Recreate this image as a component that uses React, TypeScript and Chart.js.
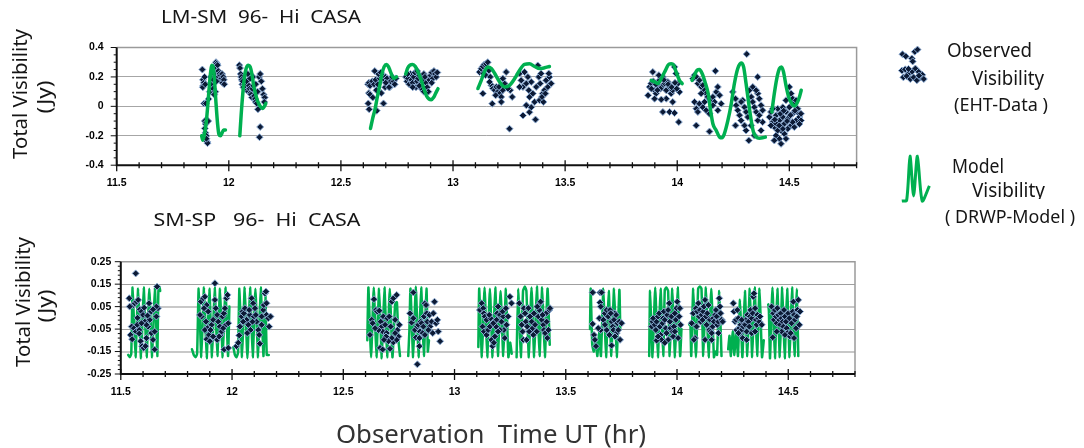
import React, { useEffect, useRef } from "react";
import { Chart, registerables } from "chart.js";

Chart.register(...registerables);

type Pt = [number, number];

// ---------------- axes / tick labels ----------------
const X_MIN = 11.5;
const X_MAX = 14.8;
const X_MINOR = 0.1;
const xTickValues = [11.5, 12, 12.5, 13, 13.5, 14, 14.5];
const xTickLabels = ["11.5", "12", "12.5", "13", "13.5", "14", "14.5"];

const topYTickValues = [-0.4, -0.2, 0, 0.2, 0.4];
const topYTickLabels = ["-0.4", "-0.2", "0", "0.2", "0.4"];
const bottomYTickValues = [-0.25, -0.15, -0.05, 0.05, 0.15, 0.25];
const bottomYTickLabels = ["-0.25", "-0.15", "-0.05", "0.05", "0.15", "0.25"];
const topGridColors = ["#a6a6a6", "#a6a6a6", "#a6a6a6", "#a6a6a6", "#a6a6a6"];
const topGridWidths = [1, 1, 1, 1, 1];
const bottomGridColors = ["#a0a0a0", "#c8c8c8", "#a0a0a0", "#c8c8c8", "#a0a0a0", "#a0a0a0"];
const bottomGridWidths = [1, 2, 1, 2, 1, 1];

// ---------------- LM-SM observed (EHT data) ----------------
const obsTop: Pt[] = [
  [11.882,0.25],[11.885,0.18],[11.886,0.14],[11.889,0.16],[11.884,0.13],[11.892,0.2],[11.895,0.15],[11.89,0.02],[11.898,0.02],
  [11.893,-0.1],[11.897,-0.12],[11.9,-0.11],[11.893,-0.15],[11.896,-0.18],[11.9,-0.2],[11.903,-0.24],[11.905,-0.25],[11.9,-0.22],
  [11.908,-0.1],[11.91,0.05],[11.915,0.1],[11.92,0.2],[11.925,0.15],[11.93,0.12],[11.935,0.22],[11.94,0.27],[11.943,0.3],
  [11.947,0.29],[11.95,0.28],[11.953,0.24],[11.955,0.2],[11.958,0.22],[11.96,0.18],[11.963,0.21],[11.965,0.17],[11.968,0.19],
  [11.97,0.22],[11.972,0.16],[11.94,0.1],[11.935,0.08],[11.93,0.18],[11.945,0.17],[11.975,0.2],[11.978,0.18],[11.98,0.15],
  [12.047,0.28],[12.05,0.26],[12.053,0.22],[12.055,0.2],[12.058,0.18],[12.06,0.15],[12.062,0.17],[12.065,0.13],[12.07,0.15],
  [12.072,0.12],[12.075,0.14],[12.08,0.17],[12.083,0.11],[12.087,0.1],[12.09,0.14],[12.093,0.12],[12.097,0.09],[12.1,0.08],
  [12.103,0.06],[12.105,0.12],[12.108,0.2],[12.11,0.14],[12.113,0.07],[12.117,0.05],[12.12,0.03],[12.125,0.02],[12.13,-0.02],
  [12.128,0.1],[12.135,0.2],[12.14,0.22],[12.145,0.17],[12.15,0.12],[12.155,0.08],[12.16,0.06],[12.158,0.03],[12.14,-0.14],
  [12.137,-0.21],[12.12,0.15],[12.095,0.19],[12.085,0.22],
  [12.651,0.24],[12.621,0.15],[12.625,0.16],[12.63,0.14],[12.64,0.17],[12.648,0.15],[12.655,0.18],[12.665,0.15],[12.673,0.19],
  [12.68,0.2],[12.687,0.21],[12.695,0.18],[12.7,0.2],[12.706,0.19],[12.712,0.16],[12.718,0.13],[12.722,0.17],[12.668,0.22],
  [12.678,0.23],[12.625,0.09],[12.63,0.08],[12.622,0.02],[12.626,-0.02],[12.66,-0.03],[12.69,0.02],[12.68,0.09],[12.658,0.11],
  [12.642,0.06],[12.697,0.13],[12.715,0.13],[12.735,0.17],[12.745,0.19],[12.74,0.15],[12.728,0.2],[12.7,0.16],
  [12.79,0.2],[12.795,0.17],[12.8,0.19],[12.805,0.15],[12.81,0.22],[12.815,0.18],[12.82,0.16],[12.825,0.2],[12.83,0.23],
  [12.835,0.13],[12.84,0.17],[12.845,0.19],[12.85,0.21],[12.855,0.15],[12.86,0.12],[12.865,0.18],[12.87,0.22],[12.875,0.2],
  [12.88,0.16],[12.885,0.13],[12.89,0.1],[12.895,0.18],[12.9,0.21],[12.905,0.23],[12.91,0.19],[12.915,0.24],[12.92,0.22],
  [12.925,0.2],[12.93,0.23],[12.87,0.1],[12.85,0.14],[12.82,0.13],[12.797,0.22],[12.84,0.24],[12.905,0.16],
  [13.118,0.233],[13.126,0.255],[13.133,0.271],[13.14,0.285],[13.148,0.289],[13.155,0.3],[13.136,0.223],[13.145,0.212],
  [13.16,0.244],[13.166,0.2],[13.171,0.143],[13.178,0.121],[13.186,0.11],[13.193,0.132],[13.2,0.098],[13.208,0.087],
  [13.215,0.064],[13.222,0.11],[13.23,0.155],[13.237,0.233],[13.133,0.087],[13.175,0.018],[13.215,0.03],[13.19,0.075],
  [13.205,0.132],[13.222,0.189],[13.255,0.11],[13.264,0.064],[13.245,0.121],[13.163,0.166],[13.252,-0.152],
  [13.297,0.223],[13.304,0.177],[13.312,0.132],[13.319,0.233],[13.327,0.155],[13.334,0.2],[13.338,0.11],[13.341,0.064],
  [13.349,0.166],[13.356,0.087],[13.364,0.03],[13.371,0.132],[13.378,0.278],[13.383,0.2],[13.389,0.155],[13.393,0.223],
  [13.4,0.087],[13.408,0.11],[13.415,0.177],[13.423,0.132],[13.43,0.2],[13.438,0.155],[13.312,-0.062],[13.341,-0.04],
  [13.368,-0.09],[13.349,-0.006],[13.327,0.007],[13.386,0.041],[13.403,0.03],[13.427,0.223],[13.297,0.132],[13.397,0.064],
  [13.412,0.087],
  [13.891,0.234],[13.877,0.132],[13.884,0.155],[13.899,0.109],[13.906,0.087],[13.914,0.143],[13.921,0.177],[13.929,0.132],
  [13.936,0.2],[13.944,0.155],[13.951,0.109],[13.958,0.166],[13.966,0.132],[13.973,0.087],[13.98,0.109],[13.988,0.268],
  [13.995,0.223],[14.003,0.155],[14.01,0.098],[13.951,0.052],[13.929,0.046],[13.936,-0.038],[13.966,-0.038],[13.988,-0.045],
  [14.007,-0.107],[13.98,0.03],[13.899,0.052],[13.87,0.075],[13.918,0.212],[13.893,0.17],[13.905,0.15],[13.925,0.12],
  [13.94,0.18],[13.96,0.15],[13.975,0.13],[13.99,0.16],[13.998,0.12],[13.885,0.12],[13.912,0.11],
  [14.07,0.189],[14.077,0.212],[14.085,0.2],[14.092,0.155],[14.099,0.177],[14.107,0.132],[14.114,0.143],[14.122,0.109],
  [14.129,0.087],[14.136,0.064],[14.144,0.052],[14.151,0.041],[14.159,0.064],[14.166,0.03],[14.174,0.098],[14.181,0.132],
  [14.189,0.075],[14.196,0.018],[14.17,0.241],[14.077,0.03],[14.085,-0.016],[14.092,-0.038],[14.099,0.018],[14.114,-0.006],
  [14.129,-0.027],[14.144,-0.05],[14.085,-0.13],[14.144,-0.171],[14.181,-0.027],[14.159,0.007],[14.107,0.087],[14.122,0.03],
  [14.31,0.355],[14.359,0.2],[14.248,0.098],[14.26,0.052],[14.263,0.007],[14.27,-0.027],[14.278,-0.061],[14.285,-0.096],
  [14.292,0.041],[14.3,-0.006],[14.307,-0.038],[14.315,-0.073],[14.322,0.109],[14.33,0.064],[14.337,0.03],[14.344,-0.006],
  [14.352,-0.038],[14.359,0.087],[14.366,0.052],[14.374,0.007],[14.381,-0.027],[14.337,0.132],[14.352,0.109],[14.307,-0.164],
  [14.319,-0.232],[14.344,-0.198],[14.374,-0.164],[14.381,-0.107],[14.26,-0.13],[14.3,-0.13],[14.33,-0.13],[14.359,-0.096],
  [14.285,0.03],[14.366,-0.061],
  [14.411,-0.073],[14.418,-0.038],[14.426,-0.107],[14.433,-0.141],[14.441,-0.061],[14.448,-0.016],[14.456,-0.096],
  [14.463,-0.164],[14.471,-0.073],[14.478,-0.118],[14.485,-0.038],[14.493,-0.084],[14.5,-0.006],[14.508,-0.13],[14.515,-0.05],
  [14.522,0.018],[14.53,-0.096],[14.537,-0.038],[14.545,-0.073],[14.552,-0.05],[14.508,0.087],[14.515,0.052],[14.5,0.132],
  [14.441,-0.198],[14.456,-0.221],[14.463,-0.255],[14.478,-0.187],[14.485,-0.221],[14.433,-0.232],[14.448,-0.164],
  [14.418,-0.13],[14.471,-0.006],[14.493,-0.153],[14.522,-0.141],[14.537,-0.016],[14.552,-0.096],[14.426,-0.016],[14.53,0.041],
  [14.515,-0.107],[14.485,0.041],[14.441,-0.118],[14.471,-0.153],[14.46,-0.05],[14.49,-0.1],[14.505,-0.06],[14.525,-0.03],
  [14.545,-0.12],[14.475,-0.03],[14.455,-0.13],[14.435,-0.09],
];

// ---------------- LM-SM model (DRWP) segments ----------------
const modelTop: Pt[][] = [
  [[11.879,-0.2],[11.884,-0.23],[11.89,-0.2],[11.9,-0.1],[11.91,0.08],[11.918,0.22],[11.925,0.28],[11.93,0.27],[11.936,0.18],
   [11.943,0.02],[11.95,-0.12],[11.956,-0.19],[11.963,-0.2],[11.97,-0.18],[11.977,-0.16],[11.985,-0.16]],
  [[12.049,-0.2],[12.055,-0.06],[12.062,0.08],[12.07,0.2],[12.078,0.26],[12.087,0.28],[12.095,0.27],[12.103,0.22],[12.11,0.15],
   [12.12,0.08],[12.13,0.03],[12.14,0.0],[12.15,-0.015],[12.157,-0.005],[12.165,0.02]],
  [[12.632,-0.15],[12.642,-0.08],[12.652,-0.02],[12.662,0.06],[12.673,0.14],[12.683,0.22],[12.693,0.27],[12.703,0.285],
   [12.712,0.27],[12.72,0.24],[12.728,0.21],[12.735,0.19],[12.742,0.195],[12.748,0.2]],
  [[12.789,0.22],[12.798,0.26],[12.808,0.28],[12.82,0.285],[12.832,0.27],[12.845,0.23],[12.858,0.18],[12.87,0.12],[12.882,0.07],
   [12.893,0.05],[12.903,0.045],[12.913,0.06],[12.923,0.09],[12.933,0.12]],
  [[13.111,0.121],[13.126,0.177],[13.14,0.234],[13.155,0.268],[13.171,0.257],[13.186,0.223],[13.208,0.166],[13.23,0.132],
   [13.252,0.143],[13.275,0.189],[13.297,0.246],[13.319,0.285],[13.341,0.289],[13.364,0.271],[13.386,0.257],[13.408,0.262],
   [13.43,0.271]],
  [[13.884,0.177],[13.899,0.166],[13.914,0.155],[13.929,0.189],[13.944,0.234],[13.963,0.286],[13.973,0.289],[13.984,0.28],
   [13.995,0.234],[14.01,0.177],[14.022,0.155]],
  [[14.066,0.177],[14.077,0.212],[14.089,0.246],[14.099,0.25],[14.111,0.223],[14.126,0.155],[14.138,0.087],[14.148,-0.02],
   [14.159,-0.118],[14.174,-0.164],[14.189,-0.209],[14.2,-0.214],[14.21,-0.187],[14.226,-0.096],[14.241,0.018],[14.255,0.155],
   [14.27,0.257],[14.285,0.294],[14.296,0.268],[14.307,0.155],[14.319,0.018],[14.33,-0.096],[14.34,-0.175],[14.352,-0.209],
   [14.366,-0.216],[14.381,-0.214],[14.393,-0.209]],
  [[14.422,-0.038],[14.433,0.087],[14.444,0.189],[14.456,0.257],[14.465,0.268],[14.474,0.234],[14.485,0.143],[14.497,0.064],
   [14.511,0.018],[14.522,0.002],[14.533,0.018],[14.545,0.064],[14.553,0.109]],
];

// ---------------- SM-SP observed (EHT data) ----------------
const obsBottom: Pt[] = [
  [11.538,0.087],[11.567,0.198],[11.549,-0.039],[11.544,-0.076],[11.551,-0.095],[11.556,0.057],[11.563,0.065],[11.571,0.072],
  [11.578,0.08],[11.586,0.038],[11.593,0.028],[11.6,0.013],[11.559,-0.046],[11.568,-0.061],[11.574,-0.031],[11.583,-0.054],
  [11.589,-0.104],[11.596,-0.126],[11.603,-0.134],[11.611,-0.126],[11.615,-0.09],[11.622,-0.039],[11.63,-0.009],[11.637,-0.068],
  [11.645,-0.098],[11.652,-0.141],[11.66,0.006],[11.667,0.043],[11.66,0.05],[11.663,0.139],[11.652,-0.061],[11.608,-0.017],
  [11.615,-0.031],[11.593,-0.024],[11.637,0.028],[11.645,0.038],[11.627,0.065],[11.54,0.05],[11.575,0.0],[11.62,0.01],
  [11.583,-0.07],[11.605,0.045],
  [11.86,0.072],[11.871,0.087],[11.878,0.094],[11.863,0.006],[11.856,0.013],[11.886,0.057],[11.893,0.028],[11.874,0.043],
  [11.883,-0.017],[11.889,-0.046],[11.878,-0.054],[11.886,-0.095],[11.9,-0.104],[11.896,-0.076],[11.908,-0.031],[11.915,-0.009],
  [11.923,0.08],[11.927,0.043],[11.933,0.013],[11.923,0.154],[11.938,-0.017],[11.945,-0.039],[11.948,-0.076],[11.957,0.006],
  [11.963,0.02],[11.968,0.043],[11.972,-0.031],[11.975,0.087],[11.98,0.102],[11.983,-0.024],[11.965,-0.141],[11.983,-0.134],
  [11.933,-0.098],[11.942,-0.083],[11.915,-0.083],[11.903,-0.054],[11.953,-0.061],[11.96,-0.046],
  [12.02,-0.126],[12.028,-0.111],[12.032,-0.078],[12.035,-0.039],[12.043,0.006],[12.047,0.028],[12.053,0.02],[12.058,0.043],
  [12.065,-0.009],[12.073,-0.031],[12.08,0.013],[12.088,0.087],[12.095,0.065],[12.103,0.043],[12.098,0.006],[12.11,-0.017],
  [12.118,-0.054],[12.122,-0.076],[12.125,-0.115],[12.133,-0.031],[12.14,0.035],[12.143,0.057],[12.148,0.109],[12.152,0.117],
  [12.155,0.013],[12.163,-0.002],[12.167,-0.039],[12.173,0.006],[12.083,-0.054],[12.068,-0.068],[12.05,-0.017],[12.107,0.013],
  [12.133,0.006],[12.155,0.065],[12.092,-0.017],[12.077,0.035],
  [12.62,-0.076],[12.628,-0.009],[12.632,-0.024],[12.638,0.083],[12.647,0.035],[12.653,0.028],[12.662,0.032],[12.668,-0.017],
  [12.673,-0.039],[12.677,-0.061],[12.68,0.006],[12.688,-0.031],[12.695,-0.068],[12.698,-0.002],[12.707,0.006],[12.713,-0.039],
  [12.718,0.072],[12.725,0.087],[12.733,-0.009],[12.74,0.102],[12.743,-0.054],[12.748,-0.083],[12.752,-0.031],[12.665,-0.134],
  [12.677,-0.141],[12.692,-0.083],[12.71,-0.138],[12.725,-0.109],[12.74,-0.098],[12.658,-0.054],[12.643,-0.046],[12.733,-0.068],
  [12.718,-0.09],[12.703,-0.104],[12.683,-0.098],
  [12.8,0.02],[12.807,-0.021],[12.815,0.113],[12.822,-0.054],[12.827,-0.087],[12.833,-0.039],[12.837,-0.031],[12.842,-0.126],
  [12.845,-0.061],[12.848,-0.017],[12.852,-0.024],[12.86,-0.039],[12.863,0.006],[12.867,0.065],[12.872,0.057],[12.875,0.02],
  [12.878,-0.017],[12.887,0.013],[12.89,-0.039],[12.897,-0.017],[12.905,0.02],[12.91,0.072],[12.917,-0.024],[12.923,-0.009],
  [12.927,-0.061],[12.935,-0.104],[12.833,-0.207],[12.857,-0.068],[12.882,-0.054],[12.902,-0.068],[12.815,-0.002],
  [12.842,-0.09],[12.867,-0.076],
  [13.114,0.035],[13.122,0.065],[13.129,0.043],[13.132,0.02],[13.136,0.006],[13.144,-0.009],[13.126,-0.039],[13.133,-0.061],
  [13.144,-0.076],[13.151,-0.054],[13.159,-0.039],[13.162,-0.002],[13.166,-0.098],[13.171,-0.126],[13.177,-0.111],
  [13.181,-0.083],[13.186,-0.039],[13.189,-0.009],[13.192,0.02],[13.196,0.05],[13.204,0.013],[13.211,-0.017],[13.219,0.006],
  [13.222,-0.054],[13.226,-0.09],[13.234,-0.031],[13.241,0.006],[13.249,0.094],[13.256,0.065],[13.204,-0.054],[13.216,0.028],
  [13.156,0.013],[13.174,-0.024],[13.196,-0.061],[13.231,0.043],
  [13.291,0.065],[13.297,0.006],[13.302,-0.031],[13.306,-0.061],[13.309,-0.098],[13.312,0.043],[13.317,0.02],[13.321,-0.017],
  [13.327,-0.039],[13.332,0.043],[13.336,-0.061],[13.339,0.006],[13.347,-0.017],[13.351,-0.046],[13.357,0.02],[13.362,-0.031],
  [13.369,-0.061],[13.377,0.006],[13.381,0.035],[13.384,0.065],[13.387,0.072],[13.392,-0.009],[13.399,-0.031],[13.402,-0.054],
  [13.407,-0.068],[13.411,0.02],[13.414,-0.017],[13.417,-0.09],[13.422,-0.054],[13.426,0.035],[13.429,0.043],[13.324,-0.098],
  [13.354,-0.076],[13.372,0.05],[13.396,0.013],
  [13.621,0.113],[13.621,-0.027],[13.627,-0.076],[13.631,-0.098],[13.636,-0.126],[13.654,0.113],[13.654,0.068],[13.657,0.05],
  [13.661,0.113],[13.651,-0.002],[13.657,-0.054],[13.646,-0.046],[13.669,-0.009],[13.676,0.02],[13.684,0.035],[13.691,0.006],
  [13.699,0.035],[13.706,-0.017],[13.711,-0.039],[13.714,-0.054],[13.717,-0.009],[13.721,0.02],[13.726,0.013],[13.729,-0.068],
  [13.732,-0.024],[13.736,-0.054],[13.741,-0.017],[13.744,-0.098],[13.751,-0.024],[13.706,-0.123],[13.684,-0.054],
  [13.696,-0.076],[13.676,-0.031],[13.702,0.02],[13.721,-0.083],
  [13.886,-0.039],[13.89,-0.017],[13.893,-0.002],[13.9,-0.031],[13.905,-0.054],[13.908,-0.017],[13.915,0.006],[13.92,0.02],
  [13.923,-0.039],[13.926,-0.076],[13.93,-0.098],[13.935,-0.024],[13.938,-0.002],[13.941,0.028],[13.945,-0.009],[13.95,-0.046],
  [13.953,-0.068],[13.956,0.013],[13.96,0.035],[13.965,0.065],[13.968,-0.017],[13.971,-0.046],[13.975,0.006],[13.98,-0.061],
  [13.983,-0.083],[13.986,-0.039],[13.99,0.02],[13.995,-0.009],[13.998,0.043],[14.001,0.072],[14.005,-0.09],[14.01,0.006],
  [14.013,0.043],[14.016,-0.031],[13.908,-0.101],[13.915,-0.083],[13.96,-0.098],[13.945,-0.111],[13.99,-0.061],
  [14.066,-0.024],[14.073,0.02],[14.081,-0.09],[14.085,0.043],[14.091,0.028],[14.096,0.065],[14.1,0.006],[14.103,0.035],
  [14.106,-0.017],[14.111,0.013],[14.115,-0.009],[14.118,0.028],[14.121,0.05],[14.126,0.08],[14.13,0.006],[14.133,-0.031],
  [14.136,0.02],[14.141,0.057],[14.145,-0.054],[14.148,-0.009],[14.151,-0.061],[14.156,-0.068],[14.16,-0.039],[14.163,-0.002],
  [14.166,-0.017],[14.171,0.013],[14.175,0.035],[14.178,0.006],[14.181,-0.031],[14.186,-0.017],[14.19,0.087],[14.193,0.05],
  [14.196,0.02],[14.201,-0.009],[14.205,-0.017],[14.076,-0.098],[14.088,-0.039],[14.126,-0.098],[14.156,-0.098],[14.186,-0.068],
  [14.253,0.065],[14.256,0.028],[14.261,-0.017],[14.265,-0.009],[14.268,-0.054],[14.271,0.035],[14.276,-0.002],[14.28,-0.046],
  [14.283,-0.068],[14.286,-0.031],[14.291,-0.054],[14.295,-0.09],[14.298,-0.039],[14.301,-0.024],[14.306,-0.031],[14.31,-0.009],
  [14.313,-0.061],[14.316,0.013],[14.321,-0.017],[14.325,-0.039],[14.328,0.006],[14.331,0.035],[14.336,-0.002],[14.34,0.02],
  [14.343,0.094],[14.346,0.109],[14.351,0.043],[14.355,-0.009],[14.358,-0.031],[14.361,0.013],[14.366,-0.002],[14.37,-0.017],
  [14.373,0.006],[14.381,-0.031],[14.336,-0.068],[14.351,-0.061],[14.313,-0.098],[14.291,-0.009],[14.276,-0.068],
  [14.425,0.05],[14.43,-0.087],[14.433,0.02],[14.436,-0.009],[14.44,0.035],[14.445,0.006],[14.448,-0.024],[14.451,0.043],
  [14.455,0.013],[14.46,-0.009],[14.463,-0.031],[14.466,0.02],[14.47,-0.002],[14.475,-0.017],[14.478,-0.039],[14.481,0.035],
  [14.485,0.006],[14.49,-0.017],[14.493,-0.046],[14.496,-0.068],[14.5,0.02],[14.505,-0.002],[14.508,-0.083],[14.511,-0.068],
  [14.515,-0.024],[14.52,0.028],[14.523,0.072],[14.526,0.013],[14.53,-0.009],[14.535,-0.046],[14.538,0.006],[14.541,0.035],
  [14.545,0.08],[14.55,-0.031],[14.553,0.028],[14.47,-0.061],[14.485,-0.076],[14.448,-0.061],[14.526,-0.09],
];

// ---------------- SM-SP model (DRWP) segments ----------------
const modelBottom: Pt[][] = [
  [[11.533,-0.165],[11.54,-0.175],[11.547,-0.16],[11.553,0.135],[11.566,-0.175],[11.578,0.13],[11.591,-0.18],[11.603,0.135],
   [11.616,-0.175],[11.628,0.13],[11.641,-0.175],[11.653,0.135],[11.664,-0.17],[11.669,0.12],[11.674,0.14],[11.677,0.12]],
  [[11.82,-0.14],[11.828,-0.165],[11.836,-0.175],[11.843,-0.16],[11.85,0.13],[11.862,-0.175],[11.874,0.135],[11.886,-0.18],
   [11.898,0.13],[11.91,-0.175],[11.922,0.135],[11.934,-0.17],[11.946,0.13],[11.958,-0.175],[11.97,0.135],[11.982,-0.17],
   [11.988,0.05]],
  [[12.006,-0.13],[12.013,-0.165],[12.02,-0.175],[12.027,-0.155],[12.033,0.13],[12.045,-0.175],[12.057,0.135],[12.069,-0.18],
   [12.081,0.135],[12.093,-0.175],[12.105,0.13],[12.117,-0.175],[12.129,0.135],[12.141,-0.17],[12.15,0.1],[12.156,-0.165],
   [12.165,-0.165]],
  [[12.608,-0.1],[12.613,0.135],[12.625,-0.175],[12.637,0.135],[12.649,-0.175],[12.661,0.13],[12.673,-0.18],[12.685,0.135],
   [12.697,-0.175],[12.709,0.13],[12.721,-0.175],[12.733,0.06],[12.741,0.07],[12.748,-0.1],[12.755,-0.17]],
  [[12.792,-0.17],[12.797,-0.06],[12.802,0.13],[12.814,-0.175],[12.826,0.14],[12.838,-0.175],[12.85,0.135],[12.862,-0.17],
   [12.874,0.13],[12.88,-0.15],[12.885,-0.1]],
  [[13.107,-0.13],[13.111,0.13],[13.123,-0.175],[13.135,0.135],[13.147,-0.175],[13.159,0.13],[13.171,-0.175],[13.183,0.135],
   [13.195,-0.17],[13.207,0.12],[13.219,-0.17],[13.231,0.13],[13.242,-0.175],[13.25,-0.11],[13.257,-0.16]],
  [[13.279,-0.175],[13.286,0.13],[13.298,-0.175],[13.308,0.12],[13.316,0.14],[13.323,0.12],[13.334,-0.175],[13.346,0.135],
   [13.358,-0.175],[13.37,0.14],[13.382,-0.17],[13.394,0.135],[13.406,-0.175],[13.418,0.13],[13.428,-0.12]],
  [[13.609,-0.05],[13.612,0.13],[13.619,-0.12],[13.626,-0.15],[13.634,-0.1],[13.642,-0.17],[13.65,-0.06],[13.658,-0.17],
   [13.669,0.13],[13.681,-0.175],[13.693,0.12],[13.705,-0.17],[13.717,0.13],[13.729,-0.175],[13.741,0.125],[13.745,-0.05]],
  [[13.875,-0.17],[13.879,0.12],[13.89,-0.175],[13.902,0.135],[13.914,-0.175],[13.926,0.13],[13.938,-0.17],[13.945,0.125],
   [13.952,0.135],[13.96,0.12],[13.967,-0.17],[13.979,0.13],[13.991,-0.175],[14.003,0.135],[14.014,-0.17],[14.02,-0.05]],
  [[14.055,-0.03],[14.06,-0.02],[14.064,-0.17],[14.073,0.13],[14.085,-0.175],[14.095,0.13],[14.102,0.14],[14.11,0.13],
   [14.118,-0.17],[14.13,0.135],[14.142,-0.175],[14.154,0.13],[14.166,-0.175],[14.173,-0.15],[14.18,-0.165],[14.19,0.12],
   [14.2,-0.17]],
  [[14.23,-0.14],[14.236,-0.08],[14.242,-0.17],[14.25,-0.06],[14.258,-0.165],[14.266,-0.05],[14.274,-0.17],[14.283,0.08],
   [14.294,-0.175],[14.305,0.12],[14.316,-0.17],[14.327,0.13],[14.338,-0.175],[14.349,0.135],[14.36,-0.17],[14.371,0.13],
   [14.382,-0.175],[14.39,-0.1]],
  [[14.41,0.06],[14.413,0.03],[14.418,-0.18],[14.429,0.135],[14.44,-0.18],[14.451,0.13],[14.462,-0.175],[14.473,0.135],
   [14.484,-0.18],[14.495,0.13],[14.506,-0.175],[14.517,0.135],[14.528,-0.17],[14.539,0.13],[14.545,-0.17]],
];

// ---------------- legend glyph samples (unit box 0..10) ----------------
const legendObsGlyph: Pt[] = [
  [1.5,7.8],[2.6,7.3],[4.6,6.8],[5.6,8.4],[6.5,8.9],[4.9,6.1],[1.3,3.9],[2.4,4.2],[3.5,3.2],[4.7,3.7],[5.8,4.4],
  [6.9,3.6],[8.1,2.9],[1.8,2.3],[2.9,2.6],[4.1,1.9],[5.2,2.3],[6.3,1.6],[7.5,2.3],[8.6,1.9],[3.5,4.3],[7.0,2.7],
];
const legendModelGlyph: Pt[] = [
  [1.2,0.9],[2.4,1.0],[3.25,8.9],[4.15,1.8],[5.1,8.9],[6.3,0.9],[8.1,3.6],
];

// ---------------- styling constants ----------------
const GREEN = "#00b050";
const POINT_FILL = "#0c1a35";
const POINT_EDGE = "#8eaed6";
const TICK_FONT = { family: '"Liberation Sans", Arial, sans-serif', size: 10.5, weight: "bold" as const };
const TEXT_FONT = '"Noto Sans", "DejaVu Sans", sans-serif';

const toXY = (pts: Pt[]) => pts.map(([x, y]) => ({ x, y }));

function joinSegments(segs: Pt[][]) {
  const out: { x: number; y: number | null }[] = [];
  segs.forEach((s, i) => {
    if (i > 0) {
      const prev = segs[i - 1][segs[i - 1].length - 1][0];
      out.push({ x: (prev + s[0][0]) / 2, y: null });
    }
    out.push(...toXY(s));
  });
  return out;
}

type PanelSpec = {
  left: number; top: number; w: number; h: number;
  padT: number; padR: number; yW: number; xH: number;
  yMin: number; yMax: number; yStep: number; yMinor: number;
  yTickValues: number[]; yTickLabels: string[];
  gridColors: string[]; gridWidths: number[];
  yLabelPad: number; xLabelPad: number;
  obs: Pt[]; model: Pt[][]; lineWidth: number; lineOnTop: boolean; smooth: boolean;
};

function axisDeco(spec: PanelSpec) {
  return {
    id: "axisDeco",
    afterDraw(chart: any) {
      const { ctx, chartArea: a, scales } = chart;
      const xs = scales.x;
      const ys = scales.y;
      ctx.save();
      ctx.strokeStyle = "#9a9a9a";
      ctx.lineWidth = 1.5;
      ctx.beginPath();
      ctx.moveTo(a.left, a.top);
      ctx.lineTo(a.right, a.top);
      ctx.lineTo(a.right, a.bottom);
      ctx.stroke();
      ctx.strokeStyle = "#111";
      ctx.lineWidth = 2;
      ctx.beginPath();
      ctx.moveTo(a.left, a.top);
      ctx.lineTo(a.left, a.bottom);
      ctx.lineTo(a.right, a.bottom);
      ctx.stroke();
      ctx.lineWidth = 1.3;
      const nx = Math.round((X_MAX - X_MIN) / X_MINOR);
      for (let k = 0; k <= nx; k++) {
        const px = xs.getPixelForValue(X_MIN + k * X_MINOR);
        const major = k % 5 === 0;
        ctx.beginPath();
        ctx.moveTo(px, a.bottom - (major ? 5 : 3));
        ctx.lineTo(px, a.bottom + (major ? 6 : 3));
        ctx.stroke();
      }
      const ny = Math.round((spec.yMax - spec.yMin) / spec.yMinor);
      const per = Math.round(spec.yStep / spec.yMinor);
      ctx.lineWidth = 1;
      for (let k = 0; k <= ny; k++) {
        const py = ys.getPixelForValue(spec.yMin + k * spec.yMinor);
        const major = k % per === 0;
        ctx.beginPath();
        ctx.moveTo(a.left - (major ? 6 : 3), py);
        ctx.lineTo(a.left, py);
        ctx.stroke();
      }
      ctx.restore();
    },
  };
}

function buildConfig(spec: PanelSpec): any {
  const obsDs = {
    type: "scatter",
    label: "Observed Visibility (EHT-Data)",
    data: toXY(spec.obs),
    pointStyle: "rectRot",
    pointRadius: 3.5,
    pointBackgroundColor: POINT_FILL,
    pointBorderColor: POINT_EDGE,
    pointBorderWidth: 1,
    showLine: false,
    order: spec.lineOnTop ? 1 : 0,
  };
  const modelDs = {
    type: "line",
    label: "Model Visibility (DRWP-Model)",
    data: joinSegments(spec.model),
    borderColor: GREEN,
    borderWidth: spec.lineWidth,
    pointRadius: 0,
    showLine: true,
    spanGaps: false,
    fill: false,
    tension: spec.smooth ? 0.4 : 0.15,
    cubicInterpolationMode: spec.smooth ? "monotone" : "default",
    borderJoinStyle: "round",
    borderCapStyle: "round",
    order: spec.lineOnTop ? 0 : 1,
  };
  return {
    type: "scatter",
    data: { datasets: [obsDs, modelDs] },
    options: {
      animation: false,
      responsive: false,
      devicePixelRatio: 1,
      events: [],
      layout: { padding: { left: 0, top: spec.padT, right: spec.padR, bottom: 0 }, autoPadding: false },
      plugins: { legend: { display: false }, tooltip: { enabled: false }, title: { display: false } },
      scales: {
        x: {
          type: "linear",
          min: X_MIN,
          max: X_MAX,
          afterBuildTicks: (s: any) => { s.ticks = xTickValues.map((v) => ({ value: v })); },
          ticks: {
            autoSkip: false,
            maxRotation: 0,
            font: TICK_FONT,
            color: "#000",
            padding: spec.xLabelPad,
            callback: (_v: any, i: number) => xTickLabels[i],
          },
          grid: { display: false, drawTicks: false },
          border: { display: false },
          afterFit: (s: any) => { s.height = spec.xH; },
        },
        y: {
          type: "linear",
          min: spec.yMin,
          max: spec.yMax,
          afterBuildTicks: (s: any) => { s.ticks = spec.yTickValues.map((v) => ({ value: v })); },
          ticks: {
            autoSkip: false,
            font: TICK_FONT,
            color: "#000",
            padding: spec.yLabelPad,
            callback: (_v: any, i: number) => spec.yTickLabels[i],
          },
          grid: {
            drawTicks: false,
            color: (c: any) => spec.gridColors[c.index] ?? "#a0a0a0",
            lineWidth: (c: any) => spec.gridWidths[c.index] ?? 1,
          },
          border: { display: false },
          afterFit: (s: any) => { s.width = spec.yW; },
        },
      },
    },
    plugins: [axisDeco(spec)],
  };
}

const topSpec: PanelSpec = {
  left: 0, top: 0, w: 880, h: 200,
  padT: 47.5, padR: 23.4, yW: 116.7, xH: 34.8,
  yMin: -0.4, yMax: 0.4, yStep: 0.2, yMinor: 0.05,
  yTickValues: topYTickValues, yTickLabels: topYTickLabels,
  gridColors: topGridColors, gridWidths: topGridWidths,
  yLabelPad: 13, xLabelPad: 12,
  obs: obsTop, model: modelTop, lineWidth: 3.5, lineOnTop: true, smooth: true,
};

const bottomSpec: PanelSpec = {
  left: 0, top: 200, w: 880, h: 200,
  padT: 61.7, padR: 25, yW: 120.8, xH: 26,
  yMin: -0.25, yMax: 0.25, yStep: 0.1, yMinor: 0.02,
  yTickValues: bottomYTickValues, yTickLabels: bottomYTickLabels,
  gridColors: bottomGridColors, gridWidths: bottomGridWidths,
  yLabelPad: 9.5, xLabelPad: 12,
  obs: obsBottom, model: modelBottom, lineWidth: 2.5, lineOnTop: false, smooth: false,
};

function Panel({ spec }: { spec: PanelSpec }) {
  const ref = useRef<HTMLCanvasElement>(null);
  useEffect(() => {
    const chart = new Chart(ref.current as HTMLCanvasElement, buildConfig(spec));
    return () => chart.destroy();
  }, [spec]);
  return (
    <canvas
      ref={ref}
      width={spec.w}
      height={spec.h}
      style={{ position: "absolute", left: spec.left, top: spec.top, width: spec.w, height: spec.h }}
    />
  );
}

function LegendGlyph({ kind, left, top, w, h }: { kind: "obs" | "model"; left: number; top: number; w: number; h: number }) {
  const ref = useRef<HTMLCanvasElement>(null);
  useEffect(() => {
    const ds: any =
      kind === "obs"
        ? {
            type: "scatter",
            data: toXY(legendObsGlyph),
            pointStyle: "rectRot",
            pointRadius: 3.5,
            pointBackgroundColor: POINT_FILL,
            pointBorderColor: POINT_EDGE,
            pointBorderWidth: 1,
            showLine: false,
          }
        : {
            type: "line",
            data: toXY(legendModelGlyph),
            borderColor: GREEN,
            borderWidth: 3,
            pointRadius: 0,
            showLine: true,
            tension: 0.25,
            fill: false,
          };
    const chart = new Chart(ref.current as HTMLCanvasElement, {
      type: "scatter",
      data: { datasets: [ds] },
      options: {
        animation: false,
        responsive: false,
        devicePixelRatio: 1,
        events: [],
        layout: { padding: 0 },
        plugins: { legend: { display: false }, tooltip: { enabled: false } },
        scales: {
          x: { display: false, min: 0, max: 10 },
          y: { display: false, min: 0, max: 10 },
        },
      },
    } as any);
    return () => chart.destroy();
  }, [kind]);
  return (
    <canvas ref={ref} width={w} height={h} style={{ position: "absolute", left, top, width: w, height: h }} />
  );
}

type TextItem = { text: string; x: number; y: number; size: number; len: number; color?: string; rotate?: boolean; anchor?: string; clip?: string };

const texts: TextItem[] = [
  { text: "LM-SM  96-  Hi  CASA", x: 161, y: 23, size: 18, len: 200 },
  { text: "SM-SP   96-  Hi  CASA", x: 153.5, y: 226, size: 18, len: 207 },
  { text: "Total Visibility", x: 26.5, y: 94, size: 20, len: 130, rotate: true, anchor: "middle" },
  { text: "(Jy)", x: 51, y: 97, size: 20, len: 33, rotate: true, anchor: "middle" },
  { text: "Total Visibility", x: 30, y: 302, size: 20, len: 130, rotate: true, anchor: "middle" },
  { text: "(Jy)", x: 52, y: 306, size: 20, len: 33, rotate: true, anchor: "middle" },
  { text: "Observation  Time UT (hr)", x: 336, y: 443, size: 26, len: 310, color: "#333" },
  { text: "Observed", x: 947, y: 57, size: 19, len: 85 },
  { text: "Visibility", x: 972, y: 85, size: 19, len: 72 },
  { text: "(EHT-Data )", x: 954, y: 111, size: 18, len: 94 },
  { text: "Model", x: 952, y: 173, size: 19, len: 52 },
  { text: "Visibility", x: 972, y: 197, size: 19, len: 73, clip: "url(#cutV)" },
  { text: "( DRWP-Model )", x: 945, y: 223, size: 18, len: 130 },
];

export default function App() {
  return (
    <div
      style={{
        position: "fixed",
        left: 0,
        top: 0,
        width: 1084,
        height: 448,
        background: "#fff",
        overflow: "hidden",
      }}
    >
      <Panel spec={topSpec} />
      <Panel spec={bottomSpec} />
      <LegendGlyph kind="obs" left={893} top={40} w={40} h={52} />
      <LegendGlyph kind="model" left={897} top={150} w={40} h={56} />
      <svg
        width={1084}
        height={448}
        style={{ position: "absolute", left: 0, top: 0, pointerEvents: "none" }}
      >
        <defs>
          <clipPath id="cutV">
            <rect x={960} y={170} width={110} height={29} />
          </clipPath>
        </defs>
        {texts.map((t, i) => (
          <text
            key={i}
            x={t.rotate ? 0 : t.x}
            y={t.rotate ? 0 : t.y}
            transform={t.rotate ? `translate(${t.x},${t.y}) rotate(-90)` : undefined}
            textAnchor={t.anchor ?? "start"}
            fontFamily={TEXT_FONT}
            fontSize={t.size}
            fill={t.color ?? "#151515"}
            textLength={t.len}
            lengthAdjust="spacingAndGlyphs"
            clipPath={t.clip}
            style={{ whiteSpace: "pre" }}
          >
            {t.text}
          </text>
        ))}
      </svg>
    </div>
  );
}
